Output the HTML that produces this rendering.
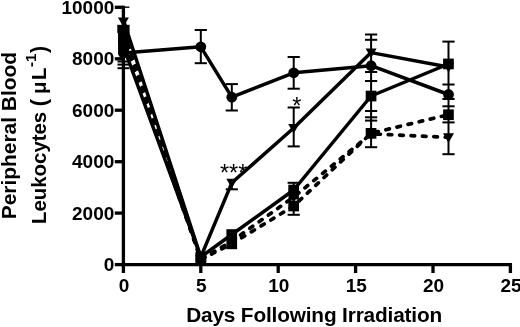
<!DOCTYPE html>
<html lang="en">
<head>
<meta charset="utf-8">
<title>Peripheral Blood Leukocytes vs Days Following Irradiation</title>
<style>
html,body{margin:0;padding:0;background:#fff;}
body{width:520px;height:327px;overflow:hidden;}
svg{display:block;will-change:transform;}
</style>
</head>
<body>
<svg width="520" height="327" viewBox="0 0 520 327">
<rect x="0" y="0" width="520" height="327" fill="#ffffff"/>
<polyline points="123.4,53.0 200.8,46.8 231.8,97.2 293.7,72.8 371.1,65.7 448.5,94.5" fill="none" stroke="#000" stroke-width="3.5" stroke-linejoin="round"/>
<polyline points="123.4,20.0 200.8,257.0 231.8,182.8 293.7,128.0 371.1,52.6 448.5,67.0" fill="none" stroke="#000" stroke-width="3.5" stroke-linejoin="round"/>
<polyline points="123.4,46.5 200.8,257.0 231.8,234.5 293.7,190.0 371.1,96.0 448.5,64.0" fill="none" stroke="#000" stroke-width="3.5" stroke-linejoin="round"/>
<polyline points="123.4,30.5 200.8,259.5 231.8,243.8 293.7,206.0 371.1,133.3 448.5,114.7" fill="none" stroke="#000" stroke-width="3.7" stroke-linejoin="round" stroke-dasharray="3.6 7.8" stroke-dashoffset="-3.0" stroke-linecap="round"/>
<polyline points="123.4,38.0 200.8,259.5 231.8,241.2 293.7,197.0 371.1,133.8 448.5,137.4" fill="none" stroke="#000" stroke-width="3.7" stroke-linejoin="round" stroke-dasharray="3.6 7.8" stroke-dashoffset="-7.8" stroke-linecap="round"/>
<line x1="123.4" y1="7.3" x2="123.4" y2="70.0" stroke="#000" stroke-width="2.0"/>
<line x1="117.5" y1="61.5" x2="129.3" y2="61.5" stroke="#000" stroke-width="2.0"/>
<line x1="117.5" y1="64.6" x2="129.3" y2="64.6" stroke="#000" stroke-width="2.0"/>
<line x1="117.5" y1="68.2" x2="129.3" y2="68.2" stroke="#000" stroke-width="2.0"/>
<line x1="123.4" y1="7.2" x2="129.4" y2="7.2" stroke="#000" stroke-width="1.4"/>
<rect x="117.3" y="24.8" width="12.3" height="8.4" fill="#000"/>
<rect x="118" y="33" width="11" height="11.5" fill="#000"/>
<rect x="118.7" y="44" width="10" height="11" fill="#000"/>
<line x1="200.8" y1="30.0" x2="200.8" y2="63.2" stroke="#000" stroke-width="2.0"/>
<line x1="194.7" y1="30.0" x2="206.9" y2="30.0" stroke="#000" stroke-width="2.0"/>
<line x1="194.7" y1="63.2" x2="206.9" y2="63.2" stroke="#000" stroke-width="2.0"/>
<line x1="231.8" y1="84.1" x2="231.8" y2="110.5" stroke="#000" stroke-width="2.0"/>
<line x1="225.7" y1="84.1" x2="237.9" y2="84.1" stroke="#000" stroke-width="2.0"/>
<line x1="225.7" y1="110.5" x2="237.9" y2="110.5" stroke="#000" stroke-width="2.0"/>
<line x1="231.8" y1="183.0" x2="231.8" y2="189.3" stroke="#000" stroke-width="2.0"/>
<line x1="225.7" y1="189.3" x2="237.9" y2="189.3" stroke="#000" stroke-width="2.0"/>
<line x1="293.7" y1="57.0" x2="293.7" y2="88.7" stroke="#000" stroke-width="2.0"/>
<line x1="287.6" y1="57.0" x2="299.8" y2="57.0" stroke="#000" stroke-width="2.0"/>
<line x1="287.6" y1="88.7" x2="299.8" y2="88.7" stroke="#000" stroke-width="2.0"/>
<line x1="293.7" y1="107.5" x2="293.7" y2="146.4" stroke="#000" stroke-width="2.0"/>
<line x1="287.6" y1="107.5" x2="299.8" y2="107.5" stroke="#000" stroke-width="2.0"/>
<line x1="287.6" y1="146.4" x2="299.8" y2="146.4" stroke="#000" stroke-width="2.0"/>
<line x1="293.7" y1="182.8" x2="293.7" y2="214.8" stroke="#000" stroke-width="2.0"/>
<line x1="287.6" y1="182.8" x2="299.8" y2="182.8" stroke="#000" stroke-width="2.0"/>
<line x1="287.6" y1="214.8" x2="299.8" y2="214.8" stroke="#000" stroke-width="2.0"/>
<rect x="288.5" y="194.8" width="10.4" height="4.7" fill="#000"/>
<line x1="371.1" y1="34.5" x2="371.1" y2="147.2" stroke="#000" stroke-width="2.0"/>
<line x1="365.0" y1="34.5" x2="377.2" y2="34.5" stroke="#000" stroke-width="2.0"/>
<line x1="365.0" y1="39.8" x2="377.2" y2="39.8" stroke="#000" stroke-width="2.0"/>
<line x1="365.0" y1="72.0" x2="377.2" y2="72.0" stroke="#000" stroke-width="2.0"/>
<line x1="365.0" y1="81.0" x2="377.2" y2="81.0" stroke="#000" stroke-width="2.0"/>
<line x1="365.0" y1="111.0" x2="377.2" y2="111.0" stroke="#000" stroke-width="2.0"/>
<line x1="365.0" y1="117.3" x2="377.2" y2="117.3" stroke="#000" stroke-width="2.0"/>
<line x1="365.0" y1="120.6" x2="377.2" y2="120.6" stroke="#000" stroke-width="2.0"/>
<line x1="365.0" y1="147.2" x2="377.2" y2="147.2" stroke="#000" stroke-width="2.0"/>
<line x1="448.5" y1="41.6" x2="448.5" y2="154.2" stroke="#000" stroke-width="2.0"/>
<line x1="442.4" y1="41.6" x2="454.6" y2="41.6" stroke="#000" stroke-width="2.0"/>
<line x1="442.4" y1="84.5" x2="454.6" y2="84.5" stroke="#000" stroke-width="2.0"/>
<line x1="442.4" y1="99.0" x2="454.6" y2="99.0" stroke="#000" stroke-width="2.0"/>
<line x1="442.4" y1="106.3" x2="454.6" y2="106.3" stroke="#000" stroke-width="2.0"/>
<line x1="442.4" y1="122.4" x2="454.6" y2="122.4" stroke="#000" stroke-width="2.0"/>
<line x1="442.4" y1="154.2" x2="454.6" y2="154.2" stroke="#000" stroke-width="2.0"/>
<circle cx="123.4" cy="53.0" r="5.4" fill="#000"/>
<circle cx="200.8" cy="46.8" r="5.4" fill="#000"/>
<circle cx="231.8" cy="97.2" r="5.4" fill="#000"/>
<circle cx="293.7" cy="72.8" r="5.4" fill="#000"/>
<circle cx="371.1" cy="65.7" r="5.4" fill="#000"/>
<circle cx="448.5" cy="94.5" r="5.4" fill="#000"/>
<rect x="118.1" y="41.1" width="10.7" height="10.7" fill="#000"/>
<rect x="195.5" y="251.7" width="10.7" height="10.7" fill="#000"/>
<rect x="226.4" y="229.2" width="10.7" height="10.7" fill="#000"/>
<rect x="288.3" y="184.7" width="10.7" height="10.7" fill="#000"/>
<rect x="365.7" y="90.7" width="10.7" height="10.7" fill="#000"/>
<rect x="443.1" y="58.6" width="10.7" height="10.7" fill="#000"/>
<rect x="118.1" y="25.1" width="10.7" height="10.7" fill="#000"/>
<rect x="195.5" y="254.2" width="10.7" height="10.7" fill="#000"/>
<rect x="226.4" y="238.5" width="10.7" height="10.7" fill="#000"/>
<rect x="288.3" y="200.7" width="10.7" height="10.7" fill="#000"/>
<rect x="365.7" y="128.0" width="10.7" height="10.7" fill="#000"/>
<rect x="443.1" y="109.4" width="10.7" height="10.7" fill="#000"/>
<polygon points="117.9,17.4 128.9,17.4 123.4,27.0" fill="#000"/>
<polygon points="195.3,252.9 206.3,252.9 200.8,262.5" fill="#000"/>
<polygon points="226.3,178.7 237.3,178.7 231.8,188.3" fill="#000"/>
<polygon points="288.2,123.9 299.2,123.9 293.7,133.5" fill="#000"/>
<polygon points="365.6,48.5 376.6,48.5 371.1,58.1" fill="#000"/>
<polygon points="443.0,62.9 454.0,62.9 448.5,72.5" fill="#000"/>
<polygon points="117.9,33.9 128.9,33.9 123.4,43.5" fill="#000"/>
<polygon points="195.3,255.4 206.3,255.4 200.8,265.0" fill="#000"/>
<polygon points="226.3,237.1 237.3,237.1 231.8,246.7" fill="#000"/>
<polygon points="288.2,192.9 299.2,192.9 293.7,202.5" fill="#000"/>
<polygon points="365.6,129.7 376.6,129.7 371.1,139.3" fill="#000"/>
<polygon points="443.0,133.3 454.0,133.3 448.5,142.9" fill="#000"/>
<line x1="123.4" y1="5.7" x2="123.4" y2="266.2" stroke="#000" stroke-width="3.3"/>
<line x1="121.8" y1="264.6" x2="512.0" y2="264.6" stroke="#000" stroke-width="3.3"/>
<line x1="114.8" y1="264.6" x2="123.4" y2="264.6" stroke="#000" stroke-width="3.3"/>
<text x="114.3" y="271.2" text-anchor="end" font-family='"Liberation Sans", Arial, Helvetica, sans-serif' font-weight="bold" font-size="19">0</text>
<line x1="114.8" y1="213.1" x2="123.4" y2="213.1" stroke="#000" stroke-width="3.3"/>
<text x="114.3" y="219.7" text-anchor="end" font-family='"Liberation Sans", Arial, Helvetica, sans-serif' font-weight="bold" font-size="19">2000</text>
<line x1="114.8" y1="161.7" x2="123.4" y2="161.7" stroke="#000" stroke-width="3.3"/>
<text x="114.3" y="168.3" text-anchor="end" font-family='"Liberation Sans", Arial, Helvetica, sans-serif' font-weight="bold" font-size="19">4000</text>
<line x1="114.8" y1="110.2" x2="123.4" y2="110.2" stroke="#000" stroke-width="3.3"/>
<text x="114.3" y="116.8" text-anchor="end" font-family='"Liberation Sans", Arial, Helvetica, sans-serif' font-weight="bold" font-size="19">6000</text>
<line x1="114.8" y1="58.8" x2="123.4" y2="58.8" stroke="#000" stroke-width="3.3"/>
<text x="114.3" y="65.4" text-anchor="end" font-family='"Liberation Sans", Arial, Helvetica, sans-serif' font-weight="bold" font-size="19">8000</text>
<line x1="114.8" y1="7.3" x2="123.4" y2="7.3" stroke="#000" stroke-width="3.3"/>
<text x="114.3" y="13.9" text-anchor="end" font-family='"Liberation Sans", Arial, Helvetica, sans-serif' font-weight="bold" font-size="19">10000</text>
<line x1="123.4" y1="264.6" x2="123.4" y2="273" stroke="#000" stroke-width="3.3"/>
<text x="124.0" y="292.0" text-anchor="middle" font-family='"Liberation Sans", Arial, Helvetica, sans-serif' font-weight="bold" font-size="19">0</text>
<line x1="200.8" y1="264.6" x2="200.8" y2="273" stroke="#000" stroke-width="3.3"/>
<text x="201.4" y="292.0" text-anchor="middle" font-family='"Liberation Sans", Arial, Helvetica, sans-serif' font-weight="bold" font-size="19">5</text>
<line x1="278.2" y1="264.6" x2="278.2" y2="273" stroke="#000" stroke-width="3.3"/>
<text x="278.8" y="292.0" text-anchor="middle" font-family='"Liberation Sans", Arial, Helvetica, sans-serif' font-weight="bold" font-size="19">10</text>
<line x1="355.6" y1="264.6" x2="355.6" y2="273" stroke="#000" stroke-width="3.3"/>
<text x="356.2" y="292.0" text-anchor="middle" font-family='"Liberation Sans", Arial, Helvetica, sans-serif' font-weight="bold" font-size="19">15</text>
<line x1="433.0" y1="264.6" x2="433.0" y2="273" stroke="#000" stroke-width="3.3"/>
<text x="433.6" y="292.0" text-anchor="middle" font-family='"Liberation Sans", Arial, Helvetica, sans-serif' font-weight="bold" font-size="19">20</text>
<line x1="510.4" y1="264.6" x2="510.4" y2="273" stroke="#000" stroke-width="3.3"/>
<text x="511.0" y="292.0" text-anchor="middle" font-family='"Liberation Sans", Arial, Helvetica, sans-serif' font-weight="bold" font-size="19">25</text>
<text x="314.1" y="322.3" text-anchor="middle" letter-spacing="-0.16" font-family='"Liberation Sans", Arial, Helvetica, sans-serif' font-weight="bold" font-size="20.8">Days Following Irradiation</text>
<text transform="translate(15.5,135.6) rotate(-90)" text-anchor="middle" font-family='"Liberation Sans", Arial, Helvetica, sans-serif' font-weight="bold" font-size="20.9">Peripheral Blood</text>
<text transform="translate(46.2,224) rotate(-90)" text-anchor="start" font-family='"Liberation Sans", Arial, Helvetica, sans-serif' font-weight="bold" font-size="20.4">Leukocytes <tspan font-size="21.5" dy="-0.5">(</tspan><tspan dx="5" dy="0.5">μ</tspan><tspan dx="1.5">L</tspan><tspan dy="-10" dx="0.5" font-size="15">-1</tspan><tspan dy="9.5" dx="0.6" font-size="21.5">)</tspan></text>
<text x="233.7" y="181" text-anchor="middle" font-family='"Liberation Sans", Arial, Helvetica, sans-serif' font-size="23.5">***</text>
<text x="296.8" y="114.2" text-anchor="middle" font-family='"Liberation Sans", Arial, Helvetica, sans-serif' font-size="23.5">*</text>
</svg>
</body>
</html>
